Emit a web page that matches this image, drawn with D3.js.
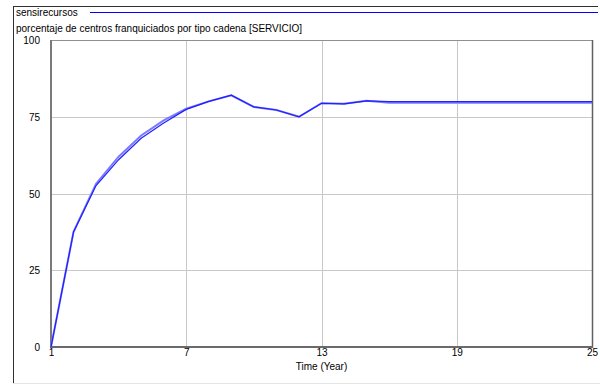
<!DOCTYPE html>
<html>
<head>
<meta charset="utf-8">
<script src="https://cdn.jsdelivr.net/npm/d3@7"></script>
<style>
  html, body { margin: 0; padding: 0; background: #fff; }
  svg { display: block; }
  text { font-family: "Liberation Sans", Arial, sans-serif; font-size: 10px; fill: #000; }
</style>
</head>
<body>
<svg id="chart" width="600" height="385"></svg>
<script>
// Simulation years and the two runs of the franchised-centre share
const years = [1, 2, 3, 4, 5, 6, 7, 8, 9, 10, 11, 12, 13, 14, 15, 16, 17, 18, 19, 20, 21, 22, 23, 24, 25];
const sensirecursos = [0, 37.5, 52.6, 61.0, 68.0, 73.0, 77.4, 80.0, 82.0, 78.2, 77.2, 75.0, 79.4, 79.2, 80.2, 79.9, 79.9, 79.9, 79.9, 79.9, 79.9, 79.9, 79.9, 79.9, 79.9];
const runB = [0, 37.5, 53.2, 62.0, 68.9, 73.8, 77.6, 80.0, 82.0, 78.2, 77.2, 75.0, 79.4, 79.2, 80.2, 79.6, 79.6, 79.6, 79.6, 79.6, 79.6, 79.6, 79.6, 79.6, 79.6];
const xTicks = [1, 7, 13, 19, 25];
const yTicks = [0, 25, 50, 75, 100];
const legendLabel = "sensirecursos";
const titleLabel = "porcentaje de centros franquiciados por tipo cadena [SERVICIO]";
const xLabel = "Time (Year)";

const svg = d3.select("#chart");
const plot = { left: 51, right: 592, top: 40, bottom: 347 };

const x = d3.scaleLinear().domain([1, 25]).range([plot.left, plot.right]);
const y = d3.scaleLinear().domain([0, 100]).range([plot.bottom, plot.top]);

// Window border
svg.append("line").attr("x1", 13.5).attr("x2", 13.5).attr("y1", 6).attr("y2", 384)
  .attr("stroke", "#303030").attr("stroke-width", 1);
svg.append("line").attr("x1", 13).attr("x2", 598).attr("y1", 6.5).attr("y2", 6.5)
  .attr("stroke", "#303030").attr("stroke-width", 1);
svg.append("line").attr("x1", 13).attr("x2", 600).attr("y1", 383.5).attr("y2", 383.5)
  .attr("stroke", "#e4e4e4").attr("stroke-width", 1);

// Legend
svg.append("text").attr("x", 16).attr("y", 16).text(legendLabel);
svg.append("line").attr("x1", 90).attr("x2", 598).attr("y1", 12.5).attr("y2", 12.5)
  .attr("stroke", "#0000ff").attr("stroke-width", 1);

// Title of the variable
svg.append("text").attr("x", 16).attr("y", 32).text(titleLabel);

// Grid lines
const grid = svg.append("g");
grid.selectAll("line.h").data(yTicks.filter(d => d > 0 && d < 100)).join("line")
  .attr("x1", plot.left).attr("x2", plot.right)
  .attr("y1", d => Math.round(y(d)) + 0.5).attr("y2", d => Math.round(y(d)) + 0.5)
  .attr("stroke", "#c8c8c8");
grid.selectAll("line.v").data(xTicks.filter(d => d > 1 && d < 25)).join("line")
  .attr("y1", plot.top).attr("y2", plot.bottom)
  .attr("x1", d => Math.round(x(d)) + 0.5).attr("x2", d => Math.round(x(d)) + 0.5)
  .attr("stroke", "#c8c8c8");

// Frame
svg.append("line").attr("x1", plot.left).attr("x2", plot.right).attr("y1", plot.top + 0.5).attr("y2", plot.top + 0.5)
  .attr("stroke", "#909090");
svg.append("line").attr("x1", plot.right + 0.5).attr("x2", plot.right + 0.5).attr("y1", plot.top).attr("y2", plot.bottom + 1)
  .attr("stroke", "#606060").attr("stroke-width", 1.5);
svg.append("line").attr("x1", plot.left).attr("x2", plot.left).attr("y1", plot.top).attr("y2", plot.bottom + 1)
  .attr("stroke", "#7a7a7a").attr("stroke-width", 2);
svg.append("line").attr("x1", plot.left - 1).attr("x2", plot.right + 1).attr("y1", plot.bottom).attr("y2", plot.bottom)
  .attr("stroke", "#6a6a6a").attr("stroke-width", 2);

// Axis labels via D3 axes, with the domain and tick marks hidden
const yAxis = svg.append("g").attr("transform", `translate(${plot.left - 11},0)`)
  .call(d3.axisLeft(y).tickValues(yTicks).tickSize(0).tickPadding(0));
yAxis.select(".domain").remove();
yAxis.selectAll("text").style("font-family", "Liberation Sans, Arial, sans-serif").style("font-size", "10px").attr("dy", "0.35em");

const xAxis = svg.append("g").attr("transform", `translate(0,${plot.bottom + 2})`)
  .call(d3.axisBottom(x).tickValues(xTicks).tickSize(0).tickPadding(0).tickFormat(d3.format("d")));
xAxis.select(".domain").remove();
xAxis.selectAll("text").style("font-family", "Liberation Sans, Arial, sans-serif").style("font-size", "10px");

svg.append("text").attr("x", x(13)).attr("y", 370).attr("text-anchor", "middle").text(xLabel);

// Data lines: the lighter run underneath, the main run on top
const line = d3.line().x((d, i) => x(years[i])).y(d => y(d));
svg.append("path").datum(runB).attr("d", line)
  .attr("fill", "none").attr("stroke", "#7a7aff").attr("stroke-width", 2);
svg.append("path").datum(sensirecursos).attr("d", line)
  .attr("fill", "none").attr("stroke", "#2020ff").attr("stroke-width", 1.2);
</script>
</body>
</html>
